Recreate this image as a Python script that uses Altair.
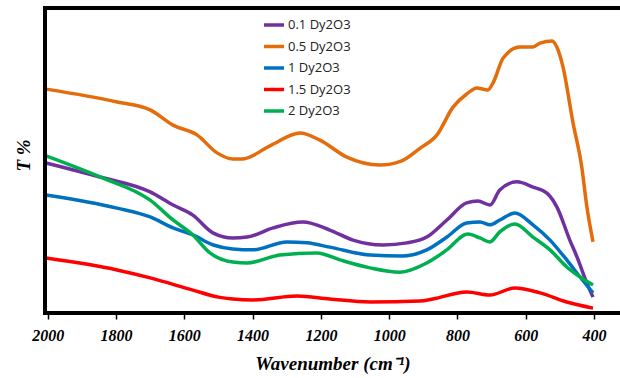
import altair as alt
import pandas as pd

series_names = ["0.1 Dy2O3", "0.5 Dy2O3", "1 Dy2O3", "1.5 Dy2O3", "2 Dy2O3"]
series_colors = ["#7030A0", "#E46C0A", "#0070C0", "#FF0000", "#00B050"]
series_widths = [3.5, 3.5, 3.5, 5.5, 3.5]

x_ticks = [2000, 1800, 1600, 1400, 1200, 1000, 800, 600, 400]

# 0.1 Dy2O3
wn_01 = [2005, 1847, 1700, 1633, 1575, 1515, 1458, 1416, 1340, 1253, 1174, 1106, 1018, 948, 890, 831, 773, 740, 705, 676, 626, 579, 538, 509, 471, 450, 421, 403]
t_01 = [49.2, 44.6, 39.7, 35.4, 32.1, 26.2, 24.6, 24.9, 27.9, 29.8, 27.2, 23.9, 22.3, 23.0, 24.9, 30.5, 36.1, 36.7, 35.4, 40.3, 43.0, 41.3, 39.3, 34.8, 23.9, 18.4, 9.8, 5.2]

# 0.5 Dy2O3
wn_05 = [2005, 1797, 1700, 1633, 1563, 1504, 1458, 1431, 1349, 1261, 1203, 1124, 1027, 965, 910, 860, 813, 773, 743, 711, 696, 666, 617, 579, 558, 523, 509, 491, 462, 436, 421, 403]
t_05 = [73.4, 69.2, 66.6, 61.6, 58.4, 52.5, 50.5, 50.5, 54.8, 59.0, 56.7, 51.1, 48.5, 49.8, 54.0, 58.4, 67.5, 71.8, 73.8, 73.1, 75.4, 83.6, 87.2, 87.2, 88.5, 89.2, 87.2, 80.7, 62.6, 47.9, 34.8, 23.3]

# 1 Dy2O3
wn_1 = [2005, 1797, 1700, 1633, 1575, 1515, 1458, 1399, 1300, 1241, 1174, 1056, 960, 890, 831, 773, 734, 705, 676, 632, 579, 529, 480, 441, 403]
t_1 = [38.7, 34.4, 31.5, 27.9, 25.6, 22.3, 21.0, 20.7, 23.3, 23.0, 21.6, 19.0, 18.7, 20.7, 24.9, 29.5, 29.8, 28.9, 30.5, 32.8, 28.9, 23.9, 17.4, 11.8, 6.6]

# 1.5 Dy2O3
wn_15 = [2005, 1797, 1700, 1575, 1500, 1458, 1399, 1270, 1174, 1056, 910, 872, 773, 705, 632, 558, 480, 403]
t_15 = [18.0, 14.1, 11.5, 7.5, 5.2, 4.6, 4.3, 5.6, 4.6, 3.6, 3.9, 4.6, 6.9, 5.9, 8.2, 6.6, 3.6, 1.6]

# 2 Dy2O3
wn_2 = [2005, 1847, 1700, 1633, 1575, 1525, 1458, 1416, 1320, 1212, 1144, 1056, 969, 890, 831, 770, 734, 705, 676, 632, 579, 529, 480, 441, 403]
t_2 = [51.5, 44.6, 37.0, 30.5, 25.6, 19.7, 16.7, 16.4, 19.0, 19.7, 17.4, 14.8, 13.4, 16.4, 20.7, 25.9, 24.6, 23.3, 26.6, 29.2, 24.9, 20.7, 15.1, 11.8, 9.2]

rows = []
for name, wn, t in [(series_names[0], wn_01, t_01), (series_names[1], wn_05, t_05),
                    (series_names[2], wn_1, t_1), (series_names[3], wn_15, t_15),
                    (series_names[4], wn_2, t_2)]:
    for i, (w, v) in enumerate(zip(wn, t)):
        rows.append({"series": name, "wn": w, "T": v, "order": i})
df = pd.DataFrame(rows)

serif = "Liberation Serif"

lines = alt.Chart(df).mark_line(interpolate="monotone").encode(
    x=alt.X("wn:Q",
            scale=alt.Scale(domain=[2008, 324], nice=False, zero=False),
            axis=alt.Axis(values=x_ticks, format="d", title="Wavenumber (cm\u207B\u00B9)",
                          grid=False, domain=False,
                          tickColor="black", tickSize=6, tickWidth=1.5,
                          labelFont=serif, labelFontSize=16, labelFontWeight="bold", labelFontStyle="italic",
                          labelColor="black", labelPadding=8,
                          titleFont=serif, titleFontSize=19, titleFontWeight="bold", titleFontStyle="italic",
                          titleColor="black", titlePadding=11)),
    y=alt.Y("T:Q",
            scale=alt.Scale(domain=[0, 100], nice=False),
            axis=alt.Axis(title="T %", labels=False, ticks=False, grid=False, domain=False,
                          titleFont=serif, titleFontSize=19, titleFontWeight="bold", titleFontStyle="italic",
                          titleColor="black", titleX=-12, titleY=147)),
    color=alt.Color("series:N",
                    scale=alt.Scale(domain=series_names, range=series_colors),
                    legend=alt.Legend(title=None, orient="none", legendX=217, legendY=5,
                                      symbolType="stroke", symbolSize=400, symbolStrokeWidth=4,
                                      labelFont="Open Sans", labelFontSize=13, labelColor="#222",
                                      rowPadding=2.5, labelOffset=2)),
    strokeWidth=alt.StrokeWidth("series:N",
                                scale=alt.Scale(domain=series_names, range=series_widths),
                                legend=None),
    order="order:Q",
)

frame = alt.Chart(pd.DataFrame({"k": [0]})).mark_rect(
    fill=None, stroke="black", strokeWidth=4
).encode(
    x=alt.value(0), x2=alt.value(585), y=alt.value(0), y2=alt.value(305)
)

chart = alt.layer(lines, frame).properties(
    width=575, height=305,
    background="white",
    autosize=alt.AutoSizeParams(type="none"),
    padding={"left": 45, "top": 8, "right": 0, "bottom": 65},
).configure_view(
    stroke=None
).configure_axis(
    labelFont=serif, labelFontWeight="bold", labelFontStyle="italic", labelColor="black",
    tickColor="black"
)

chart.save("out.html", embed_options={"renderer": "svg", "actions": False})
